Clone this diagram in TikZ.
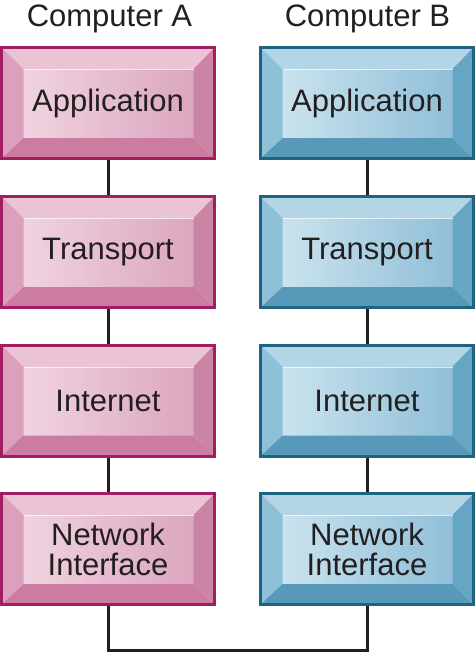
\documentclass[tikz,border=0pt]{standalone}
\usepackage{fontspec}
\setmainfont{Liberation Sans}
\usetikzlibrary{calc,backgrounds}
\definecolor{txt}{HTML}{231F20}
\definecolor{pinkborder}{HTML}{A31D62}
\definecolor{pinktop}{HTML}{EAC3D5}
\definecolor{pinkleft}{HTML}{DBA0BB}
\definecolor{pinkright}{HTML}{CC84A5}
\definecolor{pinkbot}{HTML}{CC7CA0}
\definecolor{pinkfaceL}{HTML}{F0D3E0}
\definecolor{pinkfaceR}{HTML}{DBA6BF}
\definecolor{blueborder}{HTML}{1E6482}
\definecolor{bluetop}{HTML}{B4D5E5}
\definecolor{blueleft}{HTML}{8EC0D8}
\definecolor{blueright}{HTML}{66A6C5}
\definecolor{bluebot}{HTML}{5899BA}
\definecolor{bluefaceL}{HTML}{CAE3EE}
\definecolor{bluefaceR}{HTML}{90BFD8}
\tikzset{
  layer/.style={draw=#1border, line width=3pt, minimum width=213pt, minimum height=111pt,
    inner sep=0pt, align=center, text=txt, font=\fontsize{31}{30}\selectfont,
    path picture={
      \coordinate (pnw) at (path picture bounding box.north west);
      \coordinate (pse) at (path picture bounding box.south east);
      \coordinate (pne) at (pse|-pnw);
      \coordinate (psw) at (pnw|-pse);
      \coordinate (inw) at ([shift={(22pt,-21.5pt)}]pnw);
      \coordinate (ise) at ([shift={(-21pt,20.5pt)}]pse);
      \coordinate (ine) at (ise|-inw);
      \coordinate (isw) at (inw|-ise);
      \shade[left color=#1faceL, right color=#1faceR] (inw) rectangle (ise);
      \fill[#1top] (pnw) -- (pne) -- (ine) -- (inw) -- cycle;
      \fill[#1left] (pnw) -- (inw) -- (isw) -- (psw) -- cycle;
      \fill[#1right] (pne) -- (pse) -- (ise) -- (ine) -- cycle;
      \fill[#1bot] (psw) -- (isw) -- (ise) -- (pse) -- cycle;
      \draw[white, opacity=0.7, line width=1.2pt] ([yshift=-0.6pt]inw) -- ([yshift=-0.6pt]ine);
    }},
  title/.style={anchor=base, text=txt, font=\fontsize{31}{30}\selectfont, inner sep=0pt},
  wire/.style={draw=txt, line width=3pt}
}
\begin{document}
\begin{tikzpicture}[x=1pt,y=-1pt]
\useasboundingbox (0,0) rectangle (476,653);
\node[title] (ta) at (109.5,26) {Computer A};
\node[title] (tb) at (367.5,26) {Computer B};
\node[layer=pink] (a1) at (108,103) {Application};
\node[layer=pink] (a2) at (108,252) {Transport};
\node[layer=pink] (a3) at (108,400.5) {Internet};
\node[layer=pink] (a4) at (108,549) {Network\\Interface};
\node[layer=blue] (b1) at (367,103) {Application};
\node[layer=blue] (b2) at (367,252) {Transport};
\node[layer=blue] (b3) at (367,400.5) {Internet};
\node[layer=blue] (b4) at (367,549) {Network\\Interface};
\coordinate (base) at (0,650);
\begin{scope}[on background layer]
\draw[wire] (a1) -- (a2) (a2) -- (a3) (a3) -- (a4);
\draw[wire] (b1) -- (b2) (b2) -- (b3) (b3) -- (b4);
\draw[wire] (a4.south) -- (a4.south |- base) -| (b4.south);
\end{scope}
\end{tikzpicture}
\end{document}
